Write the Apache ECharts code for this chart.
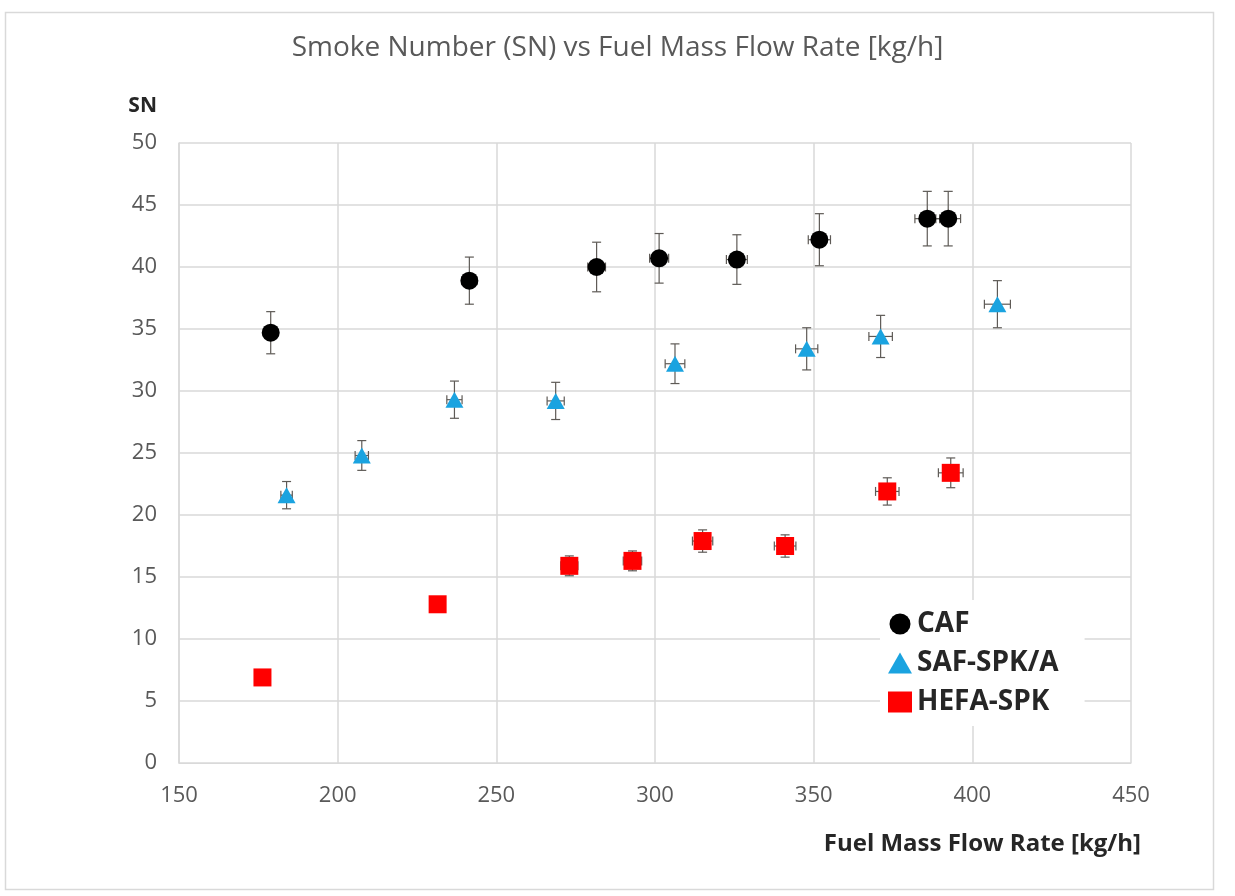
<!DOCTYPE html>
<html>
<head>
<meta charset="utf-8">
<script src="https://cdn.jsdelivr.net/npm/echarts@6/dist/echarts.min.js"></script>
<style>
  html, body { margin: 0; padding: 0; background: #fff; }
  #chart { width: 1235px; height: 896px; }
</style>
</head>
<body>
<div id="chart"></div>
<script>
// Fuel mass flow rate [kg/h], smoke number and measurement uncertainty per fuel
const flowCAF    = [178.9, 241.5, 281.6, 301.3, 325.8, 351.8, 385.8, 392.4];
const snCAF      = [34.7, 38.9, 40.0, 40.7, 40.6, 42.2, 43.9, 43.9];
const snErrCAF   = [1.7, 1.9, 2.0, 2.0, 2.0, 2.1, 2.2, 2.2];
const flowErrCAF = [1.8, 2.4, 2.8, 3.0, 3.3, 3.5, 3.9, 3.9];

const flowSAF    = [183.9, 207.6, 236.8, 268.7, 306.3, 347.8, 371.1, 407.9];
const snSAF      = [21.6, 24.8, 29.3, 29.2, 32.2, 33.4, 34.4, 37.0];
const snErrSAF   = [1.1, 1.2, 1.5, 1.5, 1.6, 1.7, 1.7, 1.9];
const flowErrSAF = [1.8, 2.1, 2.4, 2.7, 3.1, 3.5, 3.7, 4.1];

const flowHEFA    = [176.3, 231.5, 273.0, 292.9, 315.0, 341.0, 373.2, 393.2];
const snHEFA      = [6.9, 12.8, 15.9, 16.3, 17.9, 17.5, 21.9, 23.4];
const snErrHEFA   = [0.3, 0.6, 0.8, 0.8, 0.9, 0.9, 1.1, 1.2];
const flowErrHEFA = [1.8, 2.3, 2.7, 2.9, 3.2, 3.4, 3.7, 3.9];

const seriesNames = ['CAF', 'SAF-SPK/A', 'HEFA-SPK'];
const xTicks = [150, 200, 250, 300, 350, 400, 450];
const yTicks = [0, 5, 10, 15, 20, 25, 30, 35, 40, 45, 50];

const FONT = '"Open Sans", sans-serif';
const TEXT_GREY = '#595959';
const GRID_GREY = '#d9d9d9';

function points(xs, ys) { return xs.map((x, i) => [x, ys[i]]); }
function errPoints(xs, ys, ex, ey) { return xs.map((x, i) => [x, ys[i], ex[i], ey[i]]); }

// Error bars (vertical and horizontal whiskers with caps) drawn through the axes' scales
function renderErrorBar(params, api) {
  const x = api.value(0), y = api.value(1), ex = api.value(2), ey = api.value(3);
  const top = api.coord([x, y + ey]);
  const bot = api.coord([x, y - ey]);
  const lft = api.coord([x - ex, y]);
  const rgt = api.coord([x + ex, y]);
  const cap = 4.5;
  const style = { stroke: '#5e5a56', lineWidth: 1.2 };
  const line = (x1, y1, x2, y2) => ({ type: 'line', shape: { x1, y1, x2, y2 }, style });
  return {
    type: 'group',
    children: [
      line(top[0], top[1], bot[0], bot[1]),
      line(top[0] - cap, top[1], top[0] + cap, top[1]),
      line(bot[0] - cap, bot[1], bot[0] + cap, bot[1]),
      line(lft[0], lft[1], rgt[0], rgt[1]),
      line(lft[0], lft[1] - cap, lft[0], lft[1] + cap),
      line(rgt[0], rgt[1] - cap, rgt[0], rgt[1] + cap)
    ]
  };
}

function errSeries(name, data) {
  return {
    name: name,
    type: 'custom',
    renderItem: renderErrorBar,
    data: data,
    encode: { x: 0, y: 1 },
    z: 2,
    silent: true
  };
}

const chart = echarts.init(document.getElementById('chart'), null, { renderer: 'canvas' });

chart.setOption({
  animation: false,
  backgroundColor: '#ffffff',
  title: {
    text: 'Smoke Number (SN) vs Fuel Mass Flow Rate [kg/h]',
    left: 'center',
    top: 29,
    textStyle: { fontFamily: FONT, fontSize: 28, fontWeight: 'normal', color: TEXT_GREY }
  },
  grid: { left: 179, right: 104, top: 143, bottom: 133, containLabel: false },
  legend: {
    data: seriesNames,
    orient: 'vertical',
    left: 880,
    top: 600,
    itemWidth: 24,
    itemHeight: 21,
    itemGap: 11,
    padding: [10, 26, 10, 8],
    backgroundColor: '#ffffff',
    textStyle: { fontFamily: FONT, fontSize: 28, fontWeight: 'bold', color: '#262626' }
  },
  xAxis: {
    type: 'value',
    min: 150, max: 450, interval: 50,
    name: 'Fuel Mass Flow Rate [kg/h]',
    nameLocation: 'end',
    nameGap: 10,
    nameTextStyle: {
      fontFamily: FONT, fontSize: 24, fontWeight: 'bold', color: '#262626',
      align: 'right', verticalAlign: 'top', padding: [69, 0, 0, 0]
    },
    axisLine: { show: true, lineStyle: { color: GRID_GREY, width: 1 } },
    axisTick: { show: false },
    axisLabel: {
      fontFamily: FONT, fontSize: 22, color: TEXT_GREY, margin: 22,
      customValues: xTicks
    },
    splitLine: { show: true, lineStyle: { color: GRID_GREY, width: 1.5 } }
  },
  yAxis: {
    type: 'value',
    min: 0, max: 50, interval: 5,
    name: 'SN',
    nameLocation: 'end',
    nameGap: 26,
    nameTextStyle: {
      fontFamily: FONT, fontSize: 21, fontWeight: 'bold', color: '#262626',
      align: 'right', padding: [0, 22, 0, 0]
    },
    axisLine: { show: true, lineStyle: { color: GRID_GREY, width: 1.5 } },
    axisTick: { show: false },
    axisLabel: {
      fontFamily: FONT, fontSize: 22, color: TEXT_GREY, margin: 22,
      customValues: yTicks
    },
    splitLine: { show: true, lineStyle: { color: GRID_GREY, width: 1.5 } }
  },
  graphic: [
    {
      type: 'rect',
      shape: { x: 5.5, y: 12.5, width: 1208, height: 877 },
      style: { fill: 'none', stroke: '#d9d9d9', lineWidth: 1.5 },
      silent: true, z: -10
    }
  ],
  series: [
    errSeries('CAF error', errPoints(flowCAF, snCAF, flowErrCAF, snErrCAF)),
    errSeries('SAF-SPK/A error', errPoints(flowSAF, snSAF, flowErrSAF, snErrSAF)),
    errSeries('HEFA-SPK error', errPoints(flowHEFA, snHEFA, flowErrHEFA, snErrHEFA)),
    {
      name: 'CAF', type: 'scatter', data: points(flowCAF, snCAF),
      symbol: 'circle', symbolSize: 18, z: 3,
      itemStyle: { color: '#000000', opacity: 1 }
    },
    {
      name: 'SAF-SPK/A', type: 'scatter', data: points(flowSAF, snSAF),
      symbol: 'triangle', symbolSize: [18, 16], z: 3,
      itemStyle: { color: '#1aa3e0', opacity: 1 }
    },
    {
      name: 'HEFA-SPK', type: 'scatter', data: points(flowHEFA, snHEFA),
      symbol: 'rect', symbolSize: 18, z: 3,
      itemStyle: { color: '#ff0000', opacity: 1 }
    }
  ]
});
</script>
</body>
</html>
